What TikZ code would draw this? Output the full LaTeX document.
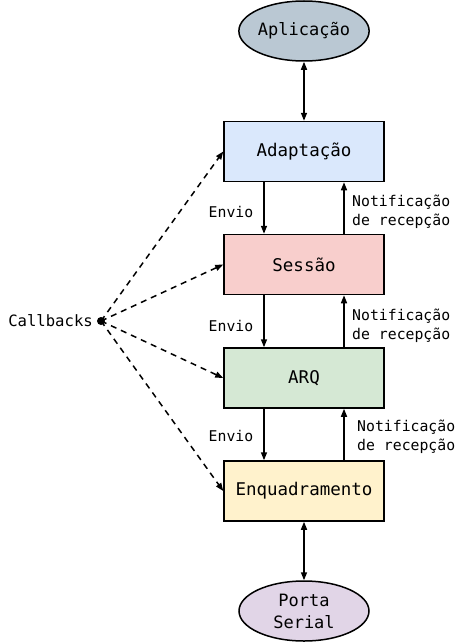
\documentclass[tikz,border=0pt]{standalone}
\usepackage{fontspec}
\setmonofont{DejaVu Sans Mono}
\usetikzlibrary{arrows.meta,shapes.geometric}
\definecolor{cApl}{HTML}{BAC8D3}
\definecolor{cAda}{HTML}{DAE8FC}
\definecolor{cSes}{HTML}{F8CECC}
\definecolor{cArq}{HTML}{D5E8D4}
\definecolor{cEnq}{HTML}{FFF2CC}
\definecolor{cPor}{HTML}{E1D5E7}
\tikzset{
  layer/.style={draw, line width=1.5pt, minimum width=160pt, minimum height=60pt, inner sep=0pt, font=\ttfamily\fontsize{17.5}{20}\selectfont},
  endpt/.style={ellipse, draw, line width=1.5pt, inner sep=0pt, font=\ttfamily\fontsize{17}{22}\selectfont, align=center},
  lbl/.style={font=\ttfamily\fontsize{14.8}{19.5}\selectfont, align=left, inner sep=0pt},
  arr/.style={line width=1.5pt, -{Triangle[length=8pt,width=6pt]}},
  darr/.style={line width=1.5pt, {Triangle[length=8pt,width=6pt]}-{Triangle[length=8pt,width=6pt]}},
  cb/.style={line width=1.5pt, dash pattern=on 6pt off 5pt, -{Triangle[length=8pt,width=6pt]}}
}
\begin{document}
\begin{tikzpicture}[x=1pt,y=-1pt]
\useasboundingbox (0,0) rectangle (462,642);
\node[endpt, fill=cApl, minimum width=124pt, minimum height=60pt] (apl) at (304,31) {Aplicação};
\node[layer, fill=cAda] (ada) at (304,151.5) {Adaptação};
\node[layer, fill=cSes] (ses) at (304,264.5) {Sessão};
\node[layer, fill=cArq] (arq) at (304,378) {ARQ};
\node[layer, fill=cEnq] (enq) at (304,491) {Enquadramento};
\node[endpt, fill=cPor, minimum width=130pt, minimum height=60pt] (por) at (304,611) {Porta\\Serial};
\draw[darr] (apl) -- (ada);
\draw[darr] (enq) -- (por);
\foreach \a/\b in {ada/ses, ses/arq, arq/enq}{
  \draw[arr] (\a.south -| 264,0) -- (\b.north -| 264,0);
  \draw[arr] (\b.north -| 344,0) -- (\a.south -| 344,0);
}
\node[lbl, anchor=base] (e1) at (231,217) {Envio};
\node[lbl, anchor=base] (e2) at (231,331) {Envio};
\node[lbl, anchor=base] (e3) at (231,441) {Envio};
\node[lbl, anchor=west] (n1) at (352,212) {Notificação\\de recepção};
\node[lbl, anchor=west] (n2) at (352,326) {Notificação\\de recepção};
\node[lbl, anchor=west] (n3) at (357,437) {Notificação\\de recepção};
\coordinate (cbp) at (101,321);
\fill (cbp) circle (4pt);
\node[lbl, anchor=east, font=\ttfamily\fontsize{15.6}{19}\selectfont] (cbl) at (93,321) {Callbacks};
\foreach \t in {ada,ses,arq,enq}{
  \draw[cb] (cbp) -- (\t.west);
}
\end{tikzpicture}
\end{document}
